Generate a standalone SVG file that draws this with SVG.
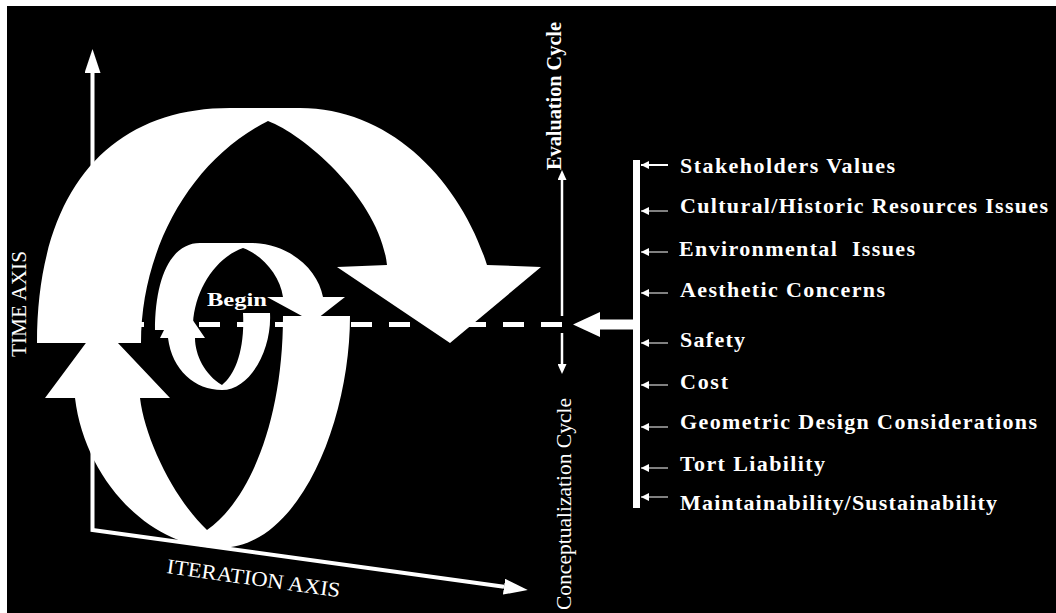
<svg xmlns="http://www.w3.org/2000/svg" width="1056" height="613" viewBox="0 0 1056 613">
<style>
  .t{font-family:"Liberation Serif","Times New Roman",serif;fill:#fff}
  .b{font-weight:bold}
  .f{font-family:"Liberation Serif","Times New Roman",serif;fill:#fff;font-weight:bold;font-size:22px}
  .shape{fill:#fff;stroke:none}
  .thin{stroke:#fff;stroke-width:1;fill:none}
  .cyc{stroke:#fff;stroke-width:2.5;fill:none}
</style>
<defs>
  <marker id="ah" markerUnits="userSpaceOnUse" markerWidth="8" markerHeight="8" refX="8" refY="4" orient="auto">
    <path d="M0,0 L8,4 L0,8 Z" fill="#fff"/>
  </marker>
  <marker id="cy" markerUnits="userSpaceOnUse" markerWidth="10" markerHeight="9" refX="0" refY="4.5" orient="auto">
    <path d="M0,0 L10,4.5 L0,9 Z" fill="#fff"/>
  </marker>
  <marker id="ax" markerUnits="userSpaceOnUse" markerWidth="24" markerHeight="16" refX="0" refY="8" orient="auto-start-reverse">
    <path d="M0,0 L24,8 L0,16 Z" fill="#fff"/>
  </marker>
</defs>
<rect x="0" y="0" width="1056" height="613" fill="#fff"/>
<rect id="background" x="7" y="6" width="1049" height="607" fill="#000"/>

<g id="axes">
  <path d="M92.5,73 V530 L504,586.7" stroke="#fff" stroke-width="4" fill="none" marker-start="url(#ax)" marker-end="url(#ax)"/>
  <text class="t" font-size="21" transform="translate(26,357) rotate(-90)" textLength="106" lengthAdjust="spacingAndGlyphs">TIME AXIS</text>
  <text class="t" font-size="21" transform="translate(166,573) rotate(8)" textLength="175" lengthAdjust="spacingAndGlyphs">ITERATION AXIS</text>
</g>

<g id="spiral-outer-upper">
  <path class="shape" d="M37,343 C37,190 110,108 230,108 L300,108 C390,108 460,180 487,265 L541,267 L450,343 L337,267 L387,265 C380,200 305,135 268,121 C190,160 141,250 141,343 Z"/>
</g>
<g id="spiral-outer-lower">
  <path class="shape" d="M100,324 L170,398 L140,398 C145,440 175,500 207,530 C250,500 283,420 283,316 L350,316 C350,420 300,548 220,548 C150,548 85,480 75,398 L45,398 Z"/>
</g>
<g id="spiral-inner-upper">
  <path class="shape" d="M155,330 C155,280 170,243 200,243 L250,243 C290,243 318,270 323,297 L345,297 L313,322 L267,297 L283,297 C280,275 262,255 243,248 C215,258 195,290 193,323 L193,330 Z"/>
</g>
<g id="spiral-inner-lower">
  <path class="shape" d="M179,300 L205,338 L195,338 C195,355 205,375 222,385 C235,375 245,350 243,313 L270,313 C272,350 250,390 222,390 C195,390 172,370 168,338 L160,338 Z"/>
</g>
<g id="begin">
  <text class="t b" x="207" y="306" font-size="19" textLength="60" lengthAdjust="spacingAndGlyphs">Begin</text>
</g>

<g id="connectors">
  <path d="M562,324.5 H137" stroke="#fff" stroke-width="5" stroke-dasharray="21 17" fill="none"/>
  <path class="cyc" d="M562,316 V180" marker-end="url(#cy)"/>
  <path class="cyc" d="M562,333 V364" marker-end="url(#cy)"/>
  <path class="shape" d="M634,319.5 H600 V312 L573,324.5 L600,337 V329.5 H634 Z"/>
  <rect class="shape" x="633" y="160" width="7" height="348"/>
  <path d="M668,165 H641" stroke="#fff" stroke-width="2" marker-end="url(#ah)"/>
  <path class="thin" d="M668,211 H641" marker-end="url(#ah)"/>
  <path class="thin" d="M668,252 H641" marker-end="url(#ah)"/>
  <path class="thin" d="M668,293 H641" marker-end="url(#ah)"/>
  <path class="thin" d="M668,343 H641" marker-end="url(#ah)"/>
  <path class="thin" d="M668,385 H641" marker-end="url(#ah)"/>
  <path class="thin" d="M668,427 H641" marker-end="url(#ah)"/>
  <path class="thin" d="M668,468 H641" marker-end="url(#ah)"/>
  <path class="thin" d="M668,497 H641" marker-end="url(#ah)"/>
</g>

<g id="cycle-labels">
  <text class="t b" font-size="20" transform="translate(561,170) rotate(-90)" textLength="148" lengthAdjust="spacingAndGlyphs">Evaluation Cycle</text>
  <text class="t" font-size="21" transform="translate(571,610) rotate(-90)" textLength="212" lengthAdjust="spacingAndGlyphs">Conceptualization Cycle</text>
</g>

<g id="factor-stakeholders"><text class="f" x="680" y="173" textLength="215" lengthAdjust="spacing">Stakeholders Values</text></g>
<g id="factor-cultural"><text class="f" x="680" y="213" textLength="368" lengthAdjust="spacing">Cultural/Historic Resources Issues</text></g>
<g id="factor-environmental"><text class="f" x="679" y="256" textLength="236" lengthAdjust="spacing" xml:space="preserve">Environmental  Issues</text></g>
<g id="factor-aesthetic"><text class="f" x="680" y="297" textLength="205" lengthAdjust="spacing">Aesthetic Concerns</text></g>
<g id="factor-safety"><text class="f" x="680" y="347" textLength="65" lengthAdjust="spacing">Safety</text></g>
<g id="factor-cost"><text class="f" x="680" y="389" textLength="48" lengthAdjust="spacing">Cost</text></g>
<g id="factor-geometric"><text class="f" x="680" y="429" textLength="357" lengthAdjust="spacing">Geometric Design Considerations</text></g>
<g id="factor-tort"><text class="f" x="680" y="471" textLength="145" lengthAdjust="spacing">Tort Liability</text></g>
<g id="factor-maintainability"><text class="f" x="680" y="510" textLength="317" lengthAdjust="spacing">Maintainability/Sustainability</text></g>
</svg>
